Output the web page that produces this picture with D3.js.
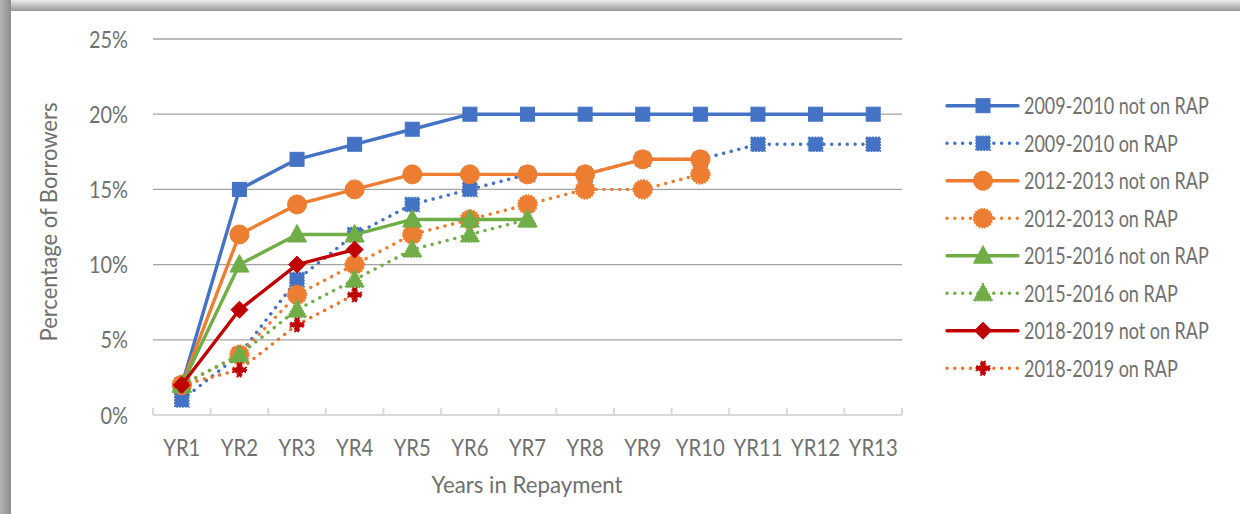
<!DOCTYPE html>
<html>
<head>
<meta charset="utf-8">
<script src="https://cdn.jsdelivr.net/npm/d3@7"></script>
<style>
  html, body { margin: 0; padding: 0; background: #fff; }
  svg { display: block; }
  text { font-family: Lato, "Open Sans", sans-serif; fill: #707070; }
</style>
</head>
<body>
<svg id="chart" width="1240" height="514"></svg>
<script>
// ---------------- data ----------------
const categories = ["YR1","YR2","YR3","YR4","YR5","YR6","YR7","YR8","YR9","YR10","YR11","YR12","YR13"];
const yTicks = [0, 0.05, 0.10, 0.15, 0.20, 0.25];

const s0910Not = [0.02,0.15,0.17,0.18,0.19,0.20,0.20,0.20,0.20,0.20,0.20,0.20,0.20];
const s0910On  = [0.01,0.04,0.09,0.12,0.14,0.15,0.16,0.16,0.17,0.17,0.18,0.18,0.18];
const s1213Not = [0.02,0.12,0.14,0.15,0.16,0.16,0.16,0.16,0.17,0.17];
const s1213On  = [0.02,0.04,0.08,0.10,0.12,0.13,0.14,0.15,0.15,0.16];
const s1516Not = [0.02,0.10,0.12,0.12,0.13,0.13,0.13];
const s1516On  = [0.02,0.04,0.07,0.09,0.11,0.12,0.13];
const s1819Not = [0.02,0.07,0.10,0.11];
const s1819On  = [0.02,0.03,0.06,0.08];

const seriesNames = [
  "2009-2010 not on RAP","2009-2010 on RAP",
  "2012-2013 not on RAP","2012-2013 on RAP",
  "2015-2016 not on RAP","2015-2016 on RAP",
  "2018-2019 not on RAP","2018-2019 on RAP"
];
const seriesValues = [s0910Not, s0910On, s1213Not, s1213On, s1516Not, s1516On, s1819Not, s1819On];

// style per series
const styles = [
  {line:"#4472C4", mark:"#4472C4", dotted:false, shape:"square"},
  {line:"#4472C4", mark:"#4472C4", dotted:true,  shape:"square"},
  {line:"#ED7D31", mark:"#ED7D31", dotted:false, shape:"circle"},
  {line:"#ED7D31", mark:"#ED7D31", dotted:true,  shape:"circle"},
  {line:"#70AD47", mark:"#70AD47", dotted:false, shape:"triangle"},
  {line:"#70AD47", mark:"#70AD47", dotted:true,  shape:"triangle"},
  {line:"#C00000", mark:"#C00000", dotted:false, shape:"diamond"},
  {line:"#E7752E", mark:"#C00000", dotted:true,  shape:"cross"}
];

// ---------------- layout ----------------
const svg = d3.select("#chart");
const plotL = 153, plotR = 902, plotT = 39, plotB = 415;

// frame (shadow bands)
const defs = svg.append("defs");
const gTop = defs.append("linearGradient").attr("id","gTop").attr("x1",0).attr("y1",0).attr("x2",0).attr("y2",1);
gTop.append("stop").attr("offset","0%").attr("stop-color","#ececec");
gTop.append("stop").attr("offset","100%").attr("stop-color","#979797");
const gLeft = defs.append("linearGradient").attr("id","gLeft").attr("x1",0).attr("y1",0).attr("x2",1).attr("y2",0);
gLeft.append("stop").attr("offset","0%").attr("stop-color","#b4b4b4");
gLeft.append("stop").attr("offset","100%").attr("stop-color","#8c8c8c");
svg.append("rect").attr("x",0).attr("y",0).attr("width",1240).attr("height",11).attr("fill","url(#gTop)");
svg.append("rect").attr("x",0).attr("y",0).attr("width",11).attr("height",514).attr("fill","url(#gLeft)");

// font horizontal scale (condensed look), one factor per text group
const FS = 24;
function scaleFor(str, target) {
  const p = svg.append("text").attr("font-size", FS).text(str);
  const w = p.node().getComputedTextLength();
  p.remove();
  return target / w;
}
const sxYTick = scaleFor("25%", 39);
const sxXTick = scaleFor("YR13", 49);
const sxXTitle = scaleFor("Years in Repayment", 191);
const sxYTitle = scaleFor("Percentage of Borrowers", 239);
const sxLegend = scaleFor("2009-2010 not on RAP", 185);

function label(g, x, y, txt, anchor, sx, rot) {
  return g.append("text")
    .attr("font-size", FS)
    .attr("text-anchor", anchor)
    .attr("transform", `translate(${x},${y})` + (rot ? ` rotate(${rot})` : "") + ` scale(${sx},1)`)
    .text(txt);
}

const x = d3.scaleBand().domain(categories).range([plotL, plotR]);
const cx = c => x(c) + x.bandwidth() / 2;
const y = d3.scaleLinear().domain([0, 0.25]).range([plotB, plotT]);

// gridlines
const grid = svg.append("g");
grid.selectAll("line").data(yTicks.filter(t => t > 0)).join("line")
  .attr("x1", plotL).attr("x2", plotR)
  .attr("y1", d => y(d)).attr("y2", d => y(d))
  .attr("stroke", "#a3a3a3").attr("stroke-width", 1.3);

// x axis line + ticks (inside, going up)
const ax = svg.append("g");
ax.append("line").attr("x1", plotL).attr("x2", plotR).attr("y1", plotB).attr("y2", plotB)
  .attr("stroke", "#d9d9d9").attr("stroke-width", 2);
const bounds = categories.map(c => x(c)).concat([plotR]);
ax.selectAll("line.tk").data(bounds).join("line").attr("class","tk")
  .attr("x1", d => d).attr("x2", d => d).attr("y1", plotB - 7).attr("y2", plotB)
  .attr("stroke", "#d9d9d9").attr("stroke-width", 2);

// y tick labels
const yl = svg.append("g");
yTicks.forEach(t => label(yl, 128, y(t) + 8.5, d3.format(".0%")(t), "end", sxYTick));

// x tick labels
const xl = svg.append("g");
categories.forEach(c => label(xl, cx(c), 456, c, "middle", sxXTick));

// axis titles
label(svg, 527, 493, "Years in Repayment", "middle", sxXTitle);
label(svg, 57, 222, "Percentage of Borrowers", "middle", sxYTitle, -90);

// marker drawing
function drawMarker(g, shape, color, dotted, px, py) {
  let el;
  if (shape === "square") {
    el = g.append("rect").attr("x", px - 7).attr("y", py - 7).attr("width", 14).attr("height", 14);
  } else if (shape === "circle") {
    el = g.append("circle").attr("cx", px).attr("cy", py).attr("r", 9.5);
  } else if (shape === "triangle") {
    el = g.append("path").attr("d", `M${px},${py-10} L${px+9.5},${py+7.5} L${px-9.5},${py+7.5} Z`);
  } else if (shape === "diamond") {
    el = g.append("path").attr("d", `M${px},${py-8.5} L${px+8.5},${py} L${px},${py+8.5} L${px-8.5},${py} Z`);
  } else {
    el = g.append("path").attr("d", d3.symbol().type(d3.symbolCross).size(100)()).attr("transform", `translate(${px},${py})`);
  }
  el.attr("fill", color).attr("stroke", color).attr("stroke-width", dotted ? 1.6 : 1)
    .attr("stroke-dasharray", dotted ? "1.6 1.4" : null);
}

// series
const lineGen = d3.line().x((d, i) => cx(categories[i])).y(d => y(d));
const plot = svg.append("g");
seriesValues.forEach((vals, si) => {
  const st = styles[si];
  const g = plot.append("g");
  g.append("path").attr("d", lineGen(vals))
    .attr("fill", "none").attr("stroke", st.line)
    .attr("stroke-width", 3.4)
    .attr("stroke-linecap", "round").attr("stroke-linejoin", "round")
    .attr("stroke-dasharray", st.dotted ? "0.1 7.7" : null);
  vals.forEach((v, i) => drawMarker(g, st.shape, st.mark, st.dotted, cx(categories[i]), y(v)));
});

// legend
const lg = svg.append("g");
seriesNames.forEach((name, i) => {
  const st = styles[i];
  const ry = 105.7 + i * 37.5;
  lg.append("line").attr("x1", 947).attr("x2", 1018).attr("y1", ry).attr("y2", ry)
    .attr("stroke", st.line).attr("stroke-width", 3.4).attr("stroke-linecap", "round")
    .attr("stroke-dasharray", st.dotted ? "0.1 7.7" : null);
  drawMarker(lg, st.shape, st.mark, st.dotted, 983, ry);
  label(lg, 1024, ry + 8.5, name, "start", sxLegend);
});
</script>
</body>
</html>
